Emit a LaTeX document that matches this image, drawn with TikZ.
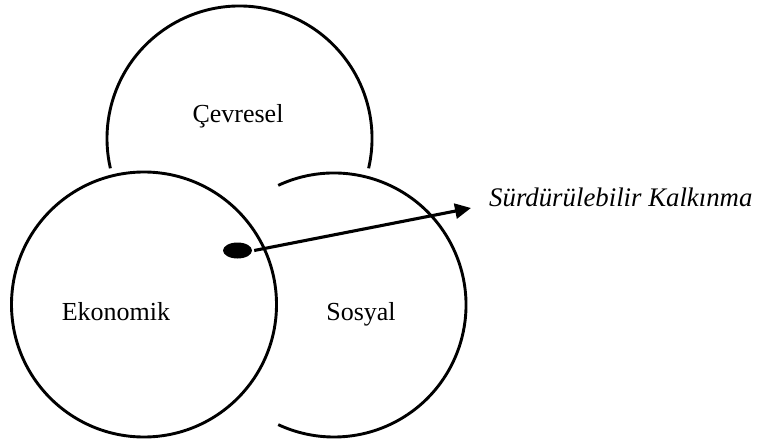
\documentclass[tikz,border=0pt]{standalone}
\usepackage{fontspec}
\setmainfont{Liberation Serif}
\usetikzlibrary{arrows.meta,shapes.geometric}
\tikzset{
  ring/.style={line width=2.9pt},
  lbl/.style={font=\fontsize{26}{30}\selectfont, inner sep=0pt, anchor=base},
  pointer/.style={line width=3.1pt, -{Triangle[length=16pt,width=15pt]}},
  dot/.style={ellipse, fill=black, minimum width=29pt, minimum height=16pt, inner sep=0pt}
}
\begin{document}
\begin{tikzpicture}[x=1pt,y=1pt]
\useasboundingbox (0,0) rectangle (760,440);
\coordinate (ctop) at (239.5,301.5);
\coordinate (cleft) at (144,135.5);
\coordinate (cright) at (334,135);
% top circle (partial)
\draw[ring] (ctop) ++(-13:132.5) arc[start angle=-13, end angle=193, radius=132.5];
% right circle (partial)
\draw[ring] (cright) ++(115:132) arc[start angle=115, end angle=-115, radius=132];
% left circle (full)
\draw[ring] (cleft) circle[radius=132.5];
% labels
\node[lbl] (cev) at (238,317.5) {Çevresel};
\node[lbl] (eko) at (116,119.5) {Ekonomik};
\node[lbl] (sos) at (361,119.5) {Sosyal};
\node[lbl, anchor=base west, font=\fontsize{26.8}{30}\selectfont\itshape] (sk) at (489,234) {Sürdürülebilir Kalkınma};
% dot and arrow
\node[dot] (d) at (237.5,189.5) {};
\coordinate (tip) at (471,232);
\draw[pointer] ([xshift=2pt]d.east) -- (tip);
\end{tikzpicture}
\end{document}
